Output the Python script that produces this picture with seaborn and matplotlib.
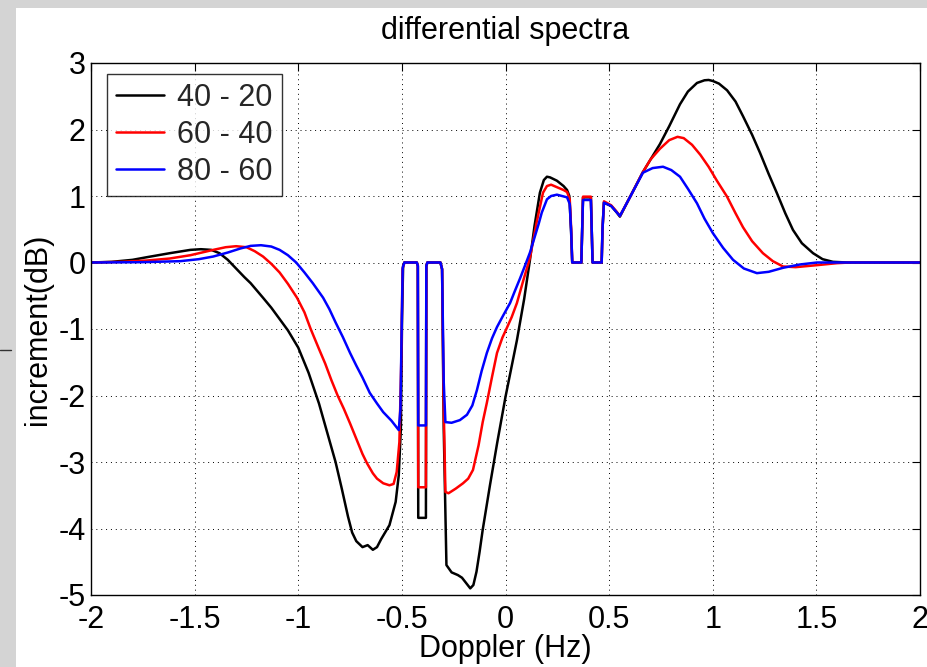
import matplotlib
matplotlib.use("Agg")
import matplotlib.pyplot as plt
from matplotlib.patches import Rectangle
from matplotlib.lines import Line2D
import pandas as pd
import seaborn as sns

# (Doppler [Hz], increment [dB]) samples of each differential spectrum
diff_40_20 = [
    (-2.00, 0.00), (-1.90, 0.01), (-1.80, 0.04), (-1.73, 0.08), (-1.62, 0.14),
    (-1.52, 0.19), (-1.47, 0.20), (-1.42, 0.19), (-1.38, 0.14), (-1.34, 0.04),
    (-1.30, -0.09), (-1.26, -0.22), (-1.23, -0.31), (-1.20, -0.42), (-1.17, -0.53),
    (-1.13, -0.68), (-1.09, -0.85), (-1.05, -1.02), (-1.00, -1.28), (-0.95, -1.66),
    (-0.90, -2.12), (-0.86, -2.56), (-0.82, -3.00), (-0.79, -3.40), (-0.76, -3.82),
    (-0.74, -4.06), (-0.72, -4.19), (-0.69, -4.28), (-0.665, -4.25), (-0.64, -4.32),
    (-0.62, -4.28), (-0.60, -4.16), (-0.56, -3.95), (-0.53, -3.60), (-0.515, -3.20),
    (-0.505, -2.50), (-0.499, -0.80), (-0.494, -0.05), (-0.488, 0.00), (-0.428, 0.00),
    (-0.423, -0.05), (-0.421, -3.84), (-0.384, -3.84), (-0.382, -0.05), (-0.377, 0.00),
    (-0.314, 0.00), (-0.306, -0.10), (-0.298, -2.50), (-0.285, -4.55), (-0.26, -4.66),
    (-0.23, -4.70), (-0.21, -4.74), (-0.19, -4.82), (-0.17, -4.90), (-0.155, -4.85),
    (-0.14, -4.65), (-0.125, -4.35), (-0.11, -4.02), (-0.075, -3.35), (-0.04, -2.71),
    (0.00, -2.02), (0.055, -1.17), (0.09, -0.55), (0.118, 0.04), (0.14, 0.55),
    (0.166, 1.05), (0.185, 1.24), (0.20, 1.29), (0.215, 1.28), (0.248, 1.23),
    (0.28, 1.15), (0.297, 1.09), (0.308, 1.00), (0.316, 0.50), (0.322, 0.00),
    (0.366, 0.00), (0.370, 0.50), (0.374, 0.98), (0.412, 0.98), (0.416, 0.50),
    (0.420, 0.00), (0.464, 0.00), (0.468, 0.50), (0.475, 0.90), (0.51, 0.85),
    (0.535, 0.76), (0.552, 0.69), (0.60, 0.98), (0.663, 1.36), (0.70, 1.55),
    (0.745, 1.78), (0.79, 2.05), (0.842, 2.38), (0.88, 2.57), (0.924, 2.70),
    (0.96, 2.74), (0.98, 2.745), (1.00, 2.73), (1.03, 2.69), (1.069, 2.59),
    (1.11, 2.42), (1.146, 2.20), (1.19, 1.92), (1.228, 1.65), (1.27, 1.33),
    (1.310, 1.04), (1.35, 0.74), (1.387, 0.49), (1.43, 0.29), (1.484, 0.14),
    (1.53, 0.05), (1.580, 0.01), (1.65, 0.00), (2.00, 0.00),
]

diff_60_40 = [
    (-2.00, 0.00), (-1.85, 0.01), (-1.73, 0.03), (-1.62, 0.06), (-1.52, 0.11),
    (-1.41, 0.19), (-1.35, 0.23), (-1.30, 0.245), (-1.25, 0.23), (-1.21, 0.17),
    (-1.17, 0.09), (-1.13, -0.02), (-1.09, -0.15), (-1.05, -0.32), (-1.006, -0.53),
    (-0.97, -0.75), (-0.94, -1.00), (-0.90, -1.30), (-0.87, -1.52), (-0.84, -1.77),
    (-0.81, -2.00), (-0.78, -2.20), (-0.75, -2.42), (-0.72, -2.65), (-0.69, -2.88),
    (-0.668, -3.02), (-0.64, -3.17), (-0.62, -3.25), (-0.59, -3.32), (-0.56, -3.35),
    (-0.54, -3.33), (-0.525, -3.15), (-0.512, -2.70), (-0.503, -1.50), (-0.497, -0.10),
    (-0.488, 0.00), (-0.428, 0.00), (-0.423, -0.05), (-0.421, -3.38), (-0.384, -3.38),
    (-0.382, -0.05), (-0.377, 0.00), (-0.314, 0.00), (-0.306, -0.10), (-0.298, -2.20),
    (-0.29, -3.45), (-0.275, -3.47), (-0.24, -3.40), (-0.205, -3.32), (-0.18, -3.25),
    (-0.157, -3.12), (-0.13, -2.75), (-0.11, -2.40), (-0.09, -2.11), (-0.065, -1.72),
    (-0.041, -1.36), (-0.015, -1.13), (0.007, -0.98), (0.03, -0.82), (0.055, -0.61),
    (0.085, -0.28), (0.118, 0.07), (0.15, 0.60), (0.181, 1.05), (0.20, 1.15),
    (0.22, 1.17), (0.25, 1.13), (0.28, 1.09), (0.297, 1.06), (0.31, 0.95),
    (0.317, 0.50), (0.322, 0.00), (0.366, 0.00), (0.370, 0.50), (0.374, 0.99),
    (0.412, 0.99), (0.416, 0.50), (0.420, 0.00), (0.464, 0.00), (0.468, 0.50),
    (0.475, 0.92), (0.51, 0.86), (0.535, 0.77), (0.552, 0.70), (0.60, 0.98),
    (0.663, 1.36), (0.70, 1.55), (0.745, 1.71), (0.79, 1.84), (0.83, 1.89),
    (0.86, 1.87), (0.90, 1.77), (0.94, 1.62), (0.98, 1.44), (1.02, 1.23),
    (1.069, 0.99), (1.11, 0.74), (1.146, 0.53), (1.19, 0.32), (1.242, 0.14),
    (1.29, 0.02), (1.339, -0.06), (1.40, -0.07), (1.503, -0.04), (1.60, -0.01),
    (1.662, 0.00), (2.00, 0.00),
]

diff_80_60 = [
    (-2.00, 0.00), (-1.75, 0.005), (-1.57, 0.02), (-1.48, 0.05), (-1.41, 0.09),
    (-1.34, 0.15), (-1.28, 0.21), (-1.23, 0.25), (-1.18, 0.26), (-1.13, 0.24),
    (-1.09, 0.19), (-1.05, 0.11), (-1.01, 0.00), (-0.97, -0.15), (-0.93, -0.31),
    (-0.88, -0.53), (-0.85, -0.70), (-0.82, -0.90), (-0.785, -1.12), (-0.75, -1.36),
    (-0.72, -1.55), (-0.69, -1.73), (-0.655, -1.96), (-0.62, -2.12), (-0.59, -2.25),
    (-0.55, -2.38), (-0.515, -2.52), (-0.507, -2.20), (-0.501, -1.00), (-0.496, -0.08),
    (-0.488, 0.00), (-0.428, 0.00), (-0.423, -0.05), (-0.421, -2.45), (-0.384, -2.45),
    (-0.382, -0.05), (-0.377, 0.00), (-0.314, 0.00), (-0.306, -0.10), (-0.298, -1.80),
    (-0.29, -2.40), (-0.26, -2.41), (-0.22, -2.37), (-0.186, -2.29), (-0.16, -2.15),
    (-0.138, -1.92), (-0.115, -1.63), (-0.09, -1.36), (-0.065, -1.14), (-0.041, -0.97),
    (-0.01, -0.79), (0.022, -0.61), (0.045, -0.43), (0.07, -0.24), (0.095, -0.04),
    (0.118, 0.15), (0.16, 0.58), (0.175, 0.75), (0.20, 0.95), (0.22, 1.00),
    (0.248, 1.02), (0.297, 0.98), (0.31, 0.88), (0.317, 0.45), (0.322, 0.00),
    (0.366, 0.00), (0.370, 0.50), (0.374, 0.94), (0.412, 0.94), (0.416, 0.50),
    (0.420, 0.00), (0.464, 0.00), (0.468, 0.50), (0.475, 0.90), (0.51, 0.85),
    (0.535, 0.76), (0.552, 0.70), (0.60, 0.98), (0.663, 1.35), (0.71, 1.42),
    (0.76, 1.44), (0.80, 1.39), (0.842, 1.29), (0.88, 1.11), (0.924, 0.89),
    (0.96, 0.66), (1.001, 0.44), (1.05, 0.22), (1.098, 0.04), (1.15, -0.09),
    (1.213, -0.16), (1.27, -0.14), (1.339, -0.08), (1.42, -0.03), (1.503, 0.00),
    (2.00, 0.00),
]

series_labels = ["40 - 20", "60 - 40", "80 - 60"]
series_colors = ["#000000", "#ff0000", "#0000ff"]
x_ticks = [-2, -1.5, -1, -0.5, 0, 0.5, 1, 1.5, 2]
x_tick_labels = ["-2", "-1.5", "-1", "-0.5", "0", "0.5", "1", "1.5", "2"]
y_ticks = [-5, -4, -3, -2, -1, 0, 1, 2, 3]

frames = []
for label, pts in zip(series_labels, [diff_40_20, diff_60_40, diff_80_60]):
    df = pd.DataFrame(pts, columns=["doppler", "increment"])
    df["pair"] = label
    frames.append(df)
data = pd.concat(frames, ignore_index=True)

sns.set_theme(style="white")
plt.rcParams["font.family"] = ["Liberation Sans", "DejaVu Sans"]
plt.rcParams["axes.unicode_minus"] = False

fig = plt.figure(figsize=(9.27, 6.67), dpi=100, facecolor="white")
# grey window frame along the top and left edges
fig.patches.append(Rectangle((0, 1 - 8 / 667), 1, 8 / 667, transform=fig.transFigure,
                             facecolor="#d4d4d4", edgecolor="none", zorder=-5))
fig.patches.append(Rectangle((0, 0), 16 / 927, 1, transform=fig.transFigure,
                             facecolor="#d4d4d4", edgecolor="none", zorder=-5))

ax = fig.add_axes([91 / 927, 1 - 595 / 667, 829 / 927, 532 / 667])
ax.set_facecolor("white")

sns.lineplot(data=data, x="doppler", y="increment", hue="pair", units="pair",
             estimator=None, sort=False, palette=dict(zip(series_labels, series_colors)),
             linewidth=1.8, ax=ax, legend=False)

ax.set_xlim(-2, 2)
ax.set_ylim(-5, 3)
ax.set_xticks(x_ticks)
ax.set_xticklabels(x_tick_labels)
ax.set_yticks(y_ticks)
ax.grid(True, color="#000000", linestyle=(0, (1, 4)), linewidth=0.7)
for sp in ax.spines.values():
    sp.set_visible(True)
    sp.set_color("#000000")
    sp.set_linewidth(1.0)
ax.tick_params(axis="both", direction="in", length=6, width=0.8, colors="#000000",
               top=True, right=True, labelsize=22)
ax.tick_params(axis="x", pad=7)
ax.tick_params(axis="y", pad=4)

ax.set_title("differential spectra", fontsize=22, color="black", pad=17)
ax.set_xlabel("Doppler (Hz)", fontsize=22, color="black")
ax.xaxis.set_label_coords(0.5, -0.074)
ax.set_ylabel("increment(dB)", fontsize=22, color="black", labelpad=4)

handles = [Line2D([], [], color=c, linewidth=1.8) for c in series_colors]
leg = ax.legend(handles, series_labels, loc="upper left",
                bbox_to_anchor=(16 / 829, 1 - 11 / 532), borderaxespad=0,
                fontsize=22, frameon=True, fancybox=False, handlelength=1.55,
                handletextpad=0.45, labelspacing=0.22, borderpad=0.3)
leg.get_frame().set_edgecolor("#000000")
leg.get_frame().set_linewidth(1.0)

# small pointer mark on the window frame
fig.lines.append(Line2D([0.0, 0.012], [1 - 350 / 667, 1 - 350 / 667], transform=fig.transFigure,
                        color="#333333", linewidth=1.0))

fig.savefig("out.png", dpi=100, facecolor=fig.get_facecolor())
